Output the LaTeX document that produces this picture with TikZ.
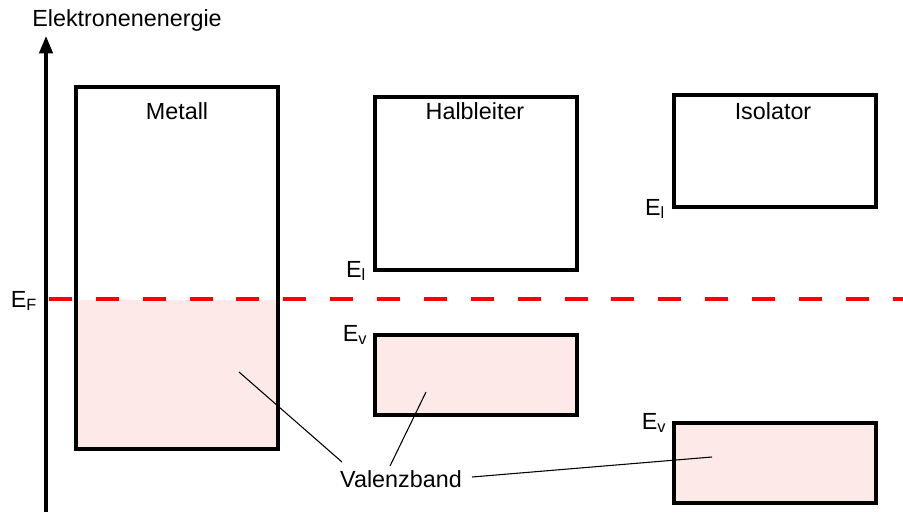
\documentclass[tikz,border=0pt]{standalone}
\usepackage{fontspec}
\setmainfont{Liberation Sans}
\usepackage{xcolor}
\usetikzlibrary{arrows.meta,positioning}

\definecolor{bandpink}{HTML}{FDE9E7}

\tikzset{
  band/.style={draw, line width=2.4pt, inner sep=0pt, outer sep=0pt, anchor=north west},
  valband/.style={band, fill=bandpink},
  lbl/.style={font=\fontsize{17.5}{20}\selectfont, inner sep=2pt},
  lead/.style={line width=0.8pt},
}

\begin{document}
\begin{tikzpicture}[x=0.75pt, y=-0.75pt]
  \useasboundingbox (0,0) rectangle (903,512);

  % energy axis
  \coordinate (ybase) at (46,512);
  \coordinate (ytop) at (46,36);
  \draw[line width=2.4pt, -{Triangle[length=13pt, width=10pt]}] (ybase) -- (ytop);
  \node[lbl] (ylabel) at (127,20) {Elektronenenergie};

  % metal: filled up to the Fermi level
  \fill[bandpink] (76,300) rectangle (278,449);
  \node[band, minimum width=151.5pt, minimum height=271.5pt] (metall) at (76,87) {};
  \node[lbl] (tmetall) at (177,111) {Metall};

  % semiconductor
  \node[band, minimum width=151.5pt, minimum height=129.75pt] (hlb) at (375,97) {};
  \node[valband, minimum width=151.5pt, minimum height=60pt] (hvb) at (375,335) {};
  \node[lbl] (thalb) at (475,111) {Halbleiter};
  \node[lbl] (hel) at (356,271) {E\textsubscript{l}};
  \node[lbl] (hev) at (355,335) {E\textsubscript{v}};

  % insulator
  \node[band, minimum width=151.5pt, minimum height=84pt] (ilb) at (674,95) {};
  \node[valband, minimum width=151.5pt, minimum height=60pt] (ivb) at (674,423) {};
  \node[lbl] (tisol) at (773,111) {Isolator};
  \node[lbl] (iel) at (655,209) {E\textsubscript{l}};
  \node[lbl] (iev) at (654,423) {E\textsubscript{v}};

  % Fermi level
  \coordinate (fa) at (49,299);
  \coordinate (fb) at (903,299);
  \draw[red, line width=2.3pt, dash pattern=on 17.25pt off 17.9pt] (fa) -- (fb);
  \node[lbl] (ef) at (24,301) {E\textsubscript{F}};

  % valence band label
  \node[lbl] (vb) at (401,479) {Valenzband};
  \coordinate (pm) at (239,372);
  \coordinate (ph) at (426,392);
  \coordinate (pi) at (712,457);
  \coordinate (vm) at (342,462);
  \coordinate (vh) at (390,466);
  \coordinate (vi) at (472,477);
  \draw[lead] (pm) -- (vm);
  \draw[lead] (ph) -- (vh);
  \draw[lead] (pi) -- (vi);
\end{tikzpicture}
\end{document}
